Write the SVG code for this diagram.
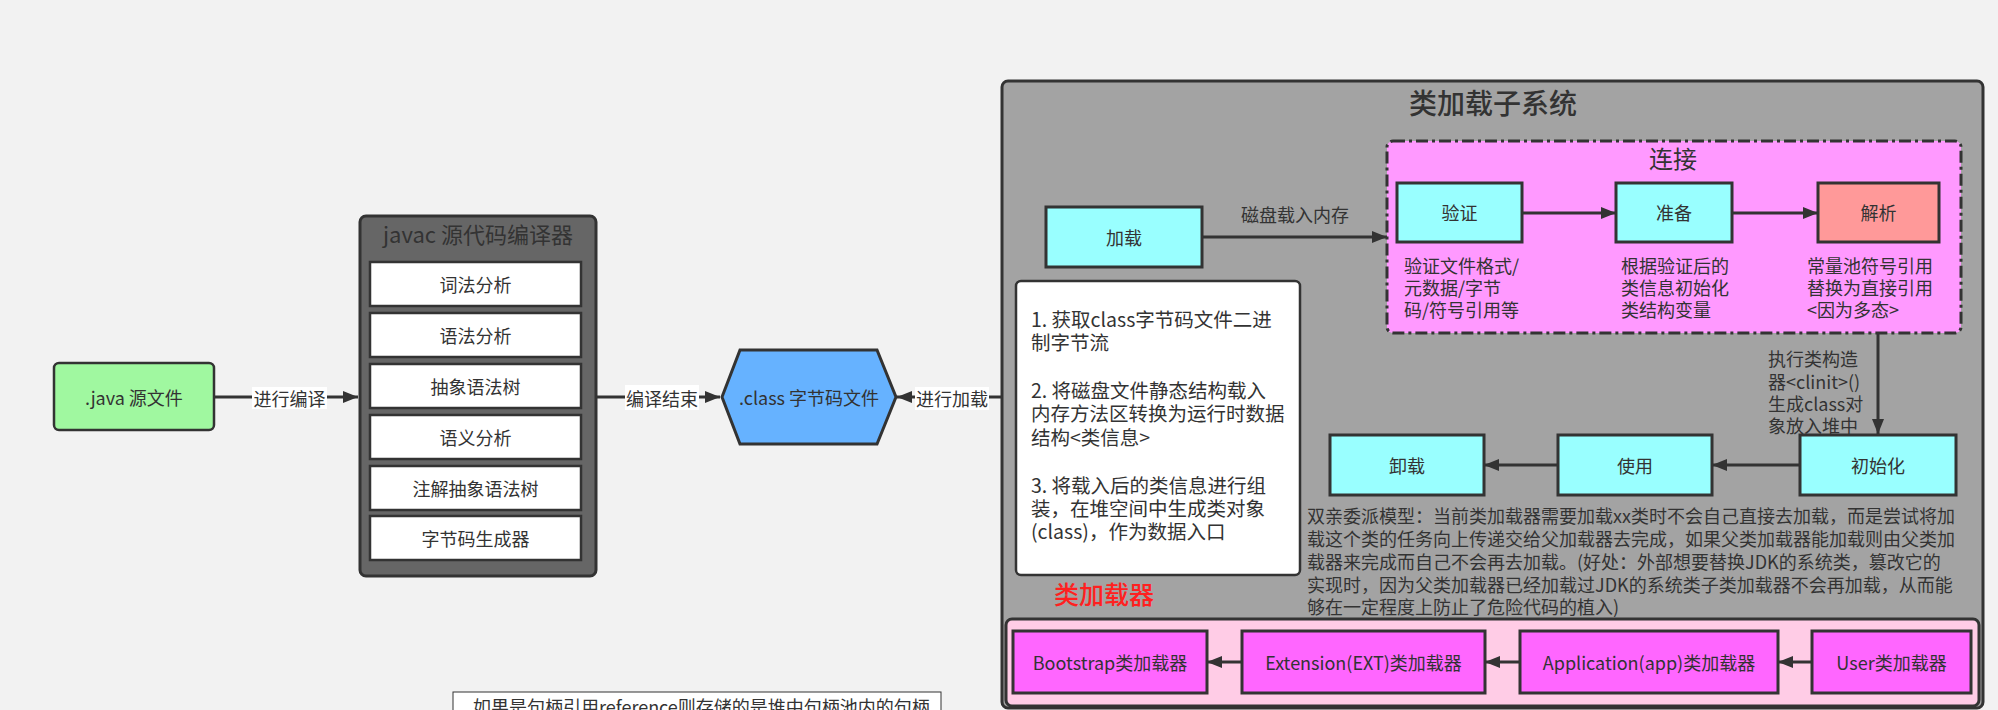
<svg xmlns="http://www.w3.org/2000/svg" width="1998" height="710" viewBox="0 0 1998 710">
<style>
text{font-family:"Noto Sans CJK SC","Liberation Sans",sans-serif;fill:#333;dominant-baseline:central}
.c{text-anchor:middle}
.t18{font-size:18px}
.box{stroke:#333;stroke-width:3}
.cyan{fill:#99ffff}
.mag{fill:#ff66ff}
.wh{fill:#fff;stroke:#333;stroke-width:2.5}
.conn{stroke:#333;stroke-width:3;fill:none;marker-end:url(#ah)}
.lbl{fill:#fff}
</style>
<defs>
<marker id="ah" markerUnits="userSpaceOnUse" markerWidth="16" markerHeight="14" refX="15" refY="6" orient="auto">
<path d="M0,0 L15,6 L0,12 z" fill="#333"/>
</marker>
</defs>
<rect width="1998" height="710" fill="#f2f2f2"/>

<g id="java-src">
<rect x="54" y="363" width="160" height="67" rx="5" fill="#a0f8a0" stroke="#333" stroke-width="2.5"/>
<text class="c t18" x="134" y="397">.java 源文件</text>
</g>

<g id="javac">
<rect x="360" y="216" width="236" height="360" rx="6" fill="#666" stroke="#333" stroke-width="3"/>
<text class="c" x="478" y="233" font-size="22">javac 源代码编译器</text>
<g id="javac-1"><rect class="wh" x="370" y="262" width="211" height="44"/><text class="c t18" x="475.5" y="284">词法分析</text></g>
<g id="javac-2"><rect class="wh" x="370" y="313" width="211" height="44"/><text class="c t18" x="475.5" y="335">语法分析</text></g>
<g id="javac-3"><rect class="wh" x="370" y="364" width="211" height="44"/><text class="c t18" x="475.5" y="386">抽象语法树</text></g>
<g id="javac-4"><rect class="wh" x="370" y="415" width="211" height="44"/><text class="c t18" x="475.5" y="437">语义分析</text></g>
<g id="javac-5"><rect class="wh" x="370" y="466" width="211" height="44"/><text class="c t18" x="475.5" y="488">注解抽象语法树</text></g>
<g id="javac-6"><rect class="wh" x="370" y="516" width="211" height="44"/><text class="c t18" x="475.5" y="538">字节码生成器</text></g>
</g>

<g id="class-file">
<polygon points="722,397 740,350 877,350 896,397 877,444 740,444" fill="#66b2ff" stroke="#333" stroke-width="3"/>
<text class="c t18" x="809" y="397">.class 字节码文件</text>
</g>

<g id="subsystem">
<rect x="1002" y="81" width="981" height="627" rx="6" fill="#a3a3a3" stroke="#333" stroke-width="3"/>
<text class="c" x="1493" y="102" font-size="28" font-weight="500">类加载子系统</text>
</g>

<g id="load">
<rect class="box cyan" x="1046" y="207" width="156" height="60"/>
<text class="c t18" x="1124" y="237">加载</text>
</g>

<g id="link">
<rect x="1387" y="141" width="574" height="192" rx="6" fill="#ff99ff" stroke="#333" stroke-width="3" stroke-dasharray="12 4 3 4"/>
<text class="c" x="1673" y="157" font-size="24">连接</text>
</g>

<g id="verify">
<rect class="box cyan" x="1397" y="183" width="125" height="59"/>
<text class="c t18" x="1459.5" y="212">验证</text>
<text class="t18" x="1404" y="265">验证文件格式/</text>
<text class="t18" x="1404" y="287">元数据/字节</text>
<text class="t18" x="1404" y="309">码/符号引用等</text>
</g>

<g id="prepare">
<rect class="box cyan" x="1616" y="183" width="116" height="59"/>
<text class="c t18" x="1674" y="212">准备</text>
<text class="t18" x="1621" y="265">根据验证后的</text>
<text class="t18" x="1621" y="287">类信息初始化</text>
<text class="t18" x="1621" y="309">类结构变量</text>
</g>

<g id="resolve">
<rect class="box" x="1818" y="183" width="121" height="59" fill="#ff9999"/>
<text class="c t18" x="1878.5" y="212">解析</text>
<text class="t18" x="1807" y="265">常量池符号引用</text>
<text class="t18" x="1807" y="287">替换为直接引用</text>
<text class="t18" x="1807" y="309">&lt;因为多态&gt;</text>
</g>

<g id="load-desc">
<rect x="1016" y="281" width="284" height="294" rx="5" fill="#fff" stroke="#333" stroke-width="2.5"/>
<text x="1031" y="318" font-size="19.5">1. 获取class字节码文件二进</text>
<text x="1031" y="341" font-size="19.5">制字节流</text>
<text x="1031" y="389" font-size="19.5">2. 将磁盘文件静态结构载入</text>
<text x="1031" y="412" font-size="19.5">内存方法区转换为运行时数据</text>
<text x="1031" y="436" font-size="19.5">结构&lt;类信息&gt;</text>
<text x="1031" y="484" font-size="19.5">3. 将载入后的类信息进行组</text>
<text x="1031" y="507" font-size="19.5">装，在堆空间中生成类对象</text>
<text x="1031" y="530" font-size="19.5">(class)，作为数据入口</text>
</g>

<g id="init">
<rect class="box cyan" x="1800" y="435" width="156" height="60"/>
<text class="c t18" x="1878" y="465">初始化</text>
</g>
<g id="use">
<rect class="box cyan" x="1558" y="435" width="154" height="60"/>
<text class="c t18" x="1635" y="465">使用</text>
</g>
<g id="unload">
<rect class="box cyan" x="1330" y="435" width="154" height="60"/>
<text class="c t18" x="1407" y="465">卸载</text>
</g>

<g id="parent-delegation">
<text class="t18" x="1307" y="515">双亲委派模型：当前类加载器需要加载xx类时不会自己直接去加载，而是尝试将加</text>
<text class="t18" x="1307" y="538">载这个类的任务向上传递交给父加载器去完成，如果父类加载器能加载则由父类加</text>
<text class="t18" x="1307" y="561">载器来完成而自己不会再去加载。(好处：外部想要替换JDK的系统类，篡改它的</text>
<text class="t18" x="1307" y="584">实现时，因为父类加载器已经加载过JDK的系统类子类加载器不会再加载，从而能</text>
<text class="t18" x="1307" y="606">够在一定程度上防止了危险代码的植入)</text>
</g>

<g id="loader-title">
<text x="1054" y="593" font-size="25" font-weight="500" style="fill:#ff2020">类加载器</text>
</g>

<g id="loaders">
<rect x="1006" y="619" width="973" height="87" rx="6" fill="#ffcce6" stroke="#333" stroke-width="3"/>
</g>
<g id="bootstrap">
<rect class="box mag" x="1013" y="631" width="194" height="62"/>
<text class="c t18" x="1110" y="662">Bootstrap类加载器</text>
</g>
<g id="extension">
<rect class="box mag" x="1242" y="631" width="243" height="62"/>
<text class="c t18" x="1363.5" y="662">Extension(EXT)类加载器</text>
</g>
<g id="application">
<rect class="box mag" x="1520" y="631" width="258" height="62"/>
<text class="c t18" x="1649" y="662">Application(app)类加载器</text>
</g>
<g id="user">
<rect class="box mag" x="1812" y="631" width="159" height="62"/>
<text class="c t18" x="1891.5" y="662">User类加载器</text>
</g>

<g id="note">
<rect x="453" y="692" width="488" height="30" fill="#fff" stroke="#333" stroke-width="1"/>
<text x="473" y="706" font-size="18">如果是句柄引用reference则存储的是堆中句柄池内的句柄.</text>
</g>

<g id="connectors">
<line class="conn" x1="214" y1="397" x2="358" y2="397"/>
<rect class="lbl" x="252" y="387" width="75" height="22"/>
<text class="c t18" x="289.5" y="398">进行编译</text>

<line class="conn" x1="596" y1="397" x2="720" y2="397"/>
<rect class="lbl" x="625" y="385" width="74" height="25"/>
<text class="c t18" x="662" y="398">编译结束</text>

<line class="conn" x1="1002" y1="397" x2="897" y2="397"/>
<rect class="lbl" x="915" y="387" width="74" height="23"/>
<text class="c t18" x="952" y="398">进行加载</text>

<line class="conn" x1="1202" y1="237" x2="1387" y2="237"/>
<text class="c t18" x="1295" y="214">磁盘载入内存</text>

<line class="conn" x1="1522" y1="213" x2="1616" y2="213"/>
<line class="conn" x1="1732" y1="213" x2="1818" y2="213"/>

<line class="conn" x1="1878" y1="333" x2="1878" y2="434"/>
<text class="t18" x="1768" y="358">执行类构造</text>
<text class="t18" x="1768" y="381">器&lt;clinit&gt;()</text>
<text class="t18" x="1768" y="403">生成class对</text>
<text class="t18" x="1768" y="425">象放入堆中</text>

<line class="conn" x1="1800" y1="465" x2="1712" y2="465"/>
<line class="conn" x1="1558" y1="465" x2="1484" y2="465"/>

<line class="conn" x1="1242" y1="662" x2="1207" y2="662"/>
<line class="conn" x1="1520" y1="662" x2="1485" y2="662"/>
<line class="conn" x1="1812" y1="662" x2="1778" y2="662"/>
</g>
</svg>
